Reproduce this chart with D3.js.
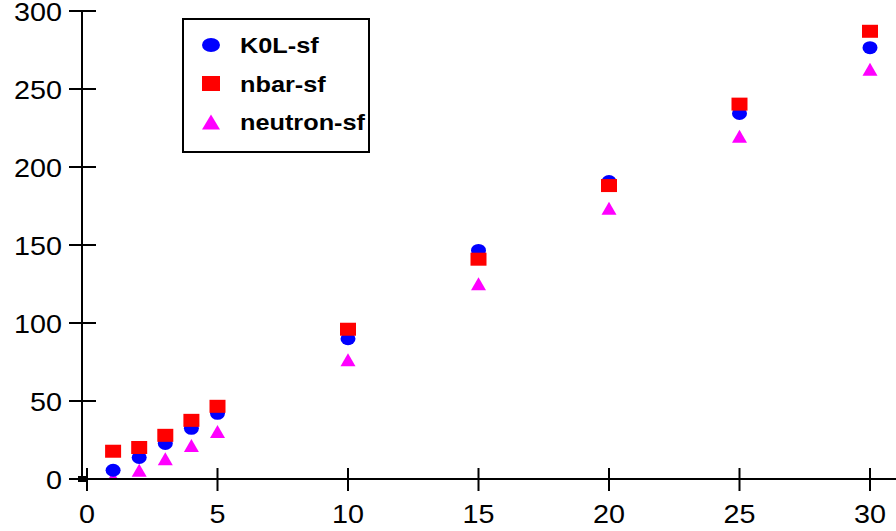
<!DOCTYPE html>
<html>
<head>
<meta charset="utf-8">
<script src="https://cdn.jsdelivr.net/npm/d3@7"></script>
<style>
  body { margin: 0; background: #fff; }
  text { font-family: "Liberation Sans", Arial, sans-serif; }
</style>
</head>
<body>
<div id="chart"></div>
<script>
{
// data
const xs = [1, 2, 3, 4, 5, 10, 15, 20, 25, 30];
const k0l = [5.6, 13.8, 22.8, 32.5, 42.1, 89.9, 146.5, 190.7, 234.3, 276.5];
const nbar = [17.8, 20.2, 28.0, 37.6, 46.6, 96.0, 140.9, 188.1, 240.3, 287];
const neutron = [1, 5.6, 13.0, 21.4, 30.5, 76.5, 125.2, 173.5, 219.7, 262.6];

const seriesNames = ["K0L-sf", "nbar-sf", "neutron-sf"];
const xTicks = [0, 5, 10, 15, 20, 25, 30];
const yTicks = [0, 50, 100, 150, 200, 250, 300];

const W = 896, H = 531;
const sx = 1.15; // picture is a little stretched sideways

const x = d3.scaleLinear().domain([0, 30]).range([87, 870]);
const y = d3.scaleLinear().domain([0, 300]).range([479, 11]);
const axisX = x(0) - 5;   // y axis sits just left of x=0

const svg = d3.select("#chart").append("svg")
    .attr("width", W).attr("height", H);

svg.append("defs").append("clipPath").attr("id", "plotclip")
  .append("rect")
    .attr("x", axisX).attr("y", 0)
    .attr("width", W - axisX).attr("height", y(0));

// markers, w/h = bounding box
function marker(g, type, color, w, h) {
  if (type == "circle") {
    g.append("ellipse").attr("rx", w / 2).attr("ry", h / 2).attr("fill", color);
  } else if (type == "square") {
    g.append("rect").attr("x", -w / 2).attr("y", -h / 2)
      .attr("width", w).attr("height", h).attr("fill", color);
  } else {
    g.append("path")
      .attr("d", `M0,${-h / 2}L${w / 2},${h / 2}L${-w / 2},${h / 2}Z`)
      .attr("fill", color);
  }
}

const series = [
  {name: seriesNames[2], vals: neutron, type: "triangle", color: "#ff00ff"},
  {name: seriesNames[0], vals: k0l, type: "circle", color: "#0000ff"},
  {name: seriesNames[1], vals: nbar, type: "square", color: "#ff0000"}
];

const plot = svg.append("g").attr("clip-path", "url(#plotclip)");
series.forEach(function(s) {
  plot.append("g").selectAll("g")
    .data(xs)
    .enter()
    .append("g")
      .attr("transform", (d, i) => `translate(${x(d)},${y(s.vals[i])})`)
      .each(function() { marker(d3.select(this), s.type, s.color, s.type == "square" ? 16 : 15, 13); });
});

// axes
const ax = svg.append("g").attr("stroke", "#000").attr("stroke-width", 2);
ax.append("line").attr("x1", axisX - 13).attr("x2", W).attr("y1", y(0)).attr("y2", y(0));
ax.append("line").attr("x1", axisX).attr("x2", axisX).attr("y1", y(300)).attr("y2", y(0) + 1);
ax.selectAll(".yt").data(yTicks).enter().append("line")
    .attr("x1", axisX - 13).attr("x2", axisX + 14)
    .attr("y1", d => y(d)).attr("y2", d => y(d));
ax.selectAll(".xt").data(xTicks).enter().append("line")
    .attr("x1", d => x(d)).attr("x2", d => x(d))
    .attr("y1", y(0) - 11).attr("y2", y(0) + 12);

// little black square at the origin
svg.append("rect").attr("x", axisX - 4).attr("y", y(0) - 3)
    .attr("width", 8).attr("height", 6).attr("fill", "#000");

svg.selectAll(".ylab").data(yTicks).enter().append("text")
    .attr("transform", d => `translate(62,${y(d) + 10}) scale(${sx},1)`)
    .attr("text-anchor", "end")
    .style("font-size", "25px")
    .text(d => d);

svg.selectAll(".xlab").data(xTicks).enter().append("text")
    .attr("transform", d => `translate(${x(d)},523) scale(${sx},1)`)
    .attr("text-anchor", "middle")
    .style("font-size", "25px")
    .text(d => d);

// legend
const leg = svg.append("g");
leg.append("rect").attr("x", 183).attr("y", 19).attr("width", 186).attr("height", 133)
    .attr("fill", "#fff").attr("stroke", "#000").attr("stroke-width", 2);
const legOrder = [series[1], series[2], series[0]];
legOrder.forEach(function(s, i) {
  const cy = 45 + i * 38.5;
  const g = leg.append("g").attr("transform", `translate(211,${cy})`);
  marker(g, s.type, s.color, 18, s.type == "circle" ? 14 : 15);
  leg.append("text")
      .attr("transform", `translate(240,${cy + 8}) scale(${sx},1)`)
      .style("font-size", "22px")
      .style("font-weight", "bold")
      .text(s.name);
});
}
</script>
</body>
</html>
